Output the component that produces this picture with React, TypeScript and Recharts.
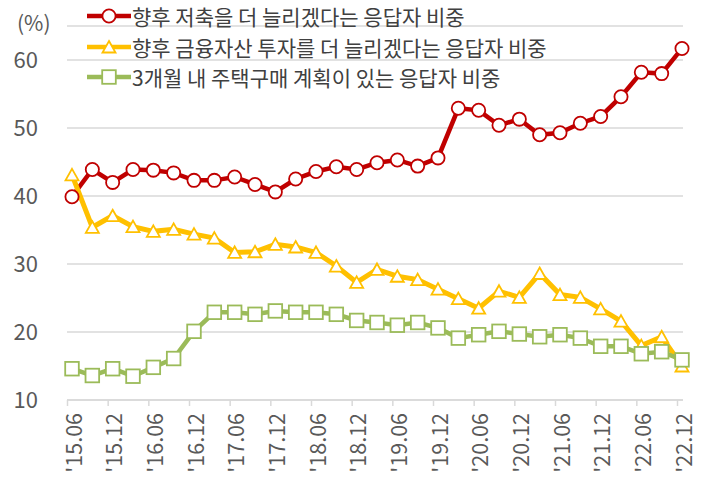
import { LineChart, Line, XAxis, YAxis, CartesianGrid, Legend } from 'recharts';

const periods = [
  "'15.06", "'15.09", "'15.12", "'16.03", "'16.06", "'16.09", "'16.12", "'17.03",
  "'17.06", "'17.09", "'17.12", "'18.03", "'18.06", "'18.09", "'18.12", "'19.03",
  "'19.06", "'19.09", "'19.12", "'20.03", "'20.06", "'20.09", "'20.12", "'21.03",
  "'21.06", "'21.09", "'21.12", "'22.03", "'22.06", "'22.09", "'22.12",
];

// 향후 저축을 더 늘리겠다는 응답자 비중
const savingsMore = [
  39.9, 43.9, 42.0, 43.9, 43.8, 43.4, 42.3, 42.3, 42.8, 41.7, 40.6, 42.5, 43.6, 44.3, 43.9, 44.9,
  45.3, 44.4, 45.6, 52.9, 52.6, 50.4, 51.3, 49.0, 49.3, 50.7, 51.7, 54.6, 58.2, 58.0, 61.7,
];

// 향후 금융자산 투자를 더 늘리겠다는 응답자 비중
const investMore = [
  43.1, 35.4, 37.1, 35.5, 34.8, 35.1, 34.4, 33.8, 31.7, 31.8, 32.9, 32.5, 31.7, 29.7, 27.3, 29.2,
  28.2, 27.7, 26.3, 24.9, 23.5, 26.0, 25.1, 28.6, 25.5, 25.1, 23.4, 21.6, 18.0, 19.3, 15.0,
];

// 3개월 내 주택구매 계획이 있는 응답자 비중
const housePlan = [
  14.6, 13.6, 14.6, 13.5, 14.8, 16.1, 20.1, 22.9, 22.9, 22.6, 23.1, 22.9, 22.9, 22.6, 21.7, 21.4,
  21.0, 21.4, 20.6, 19.1, 19.6, 20.1, 19.7, 19.3, 19.6, 19.1, 17.9, 17.9, 16.8, 17.1, 15.9,
];

const yTicks = [10, 20, 30, 40, 50, 60];
const seriesOrder = ['savings', 'invest', 'house'];

const RED = '#C00000';
const YELLOW = '#FFC000';
const GREEN = '#9BBB59';
const FONT = "'Noto Sans CJK KR', 'Noto Sans', sans-serif";

const chartData = periods.map((period, i) => ({
  period,
  savings: savingsMore[i],
  invest: investMore[i],
  house: housePlan[i],
}));

function marker(shape: string, color: string, cx: number, cy: number, key?: string) {
  if (shape === 'circle') {
    return <circle key={key} cx={cx} cy={cy} r={6.6} fill="#fff" stroke={color} strokeWidth={1.8} />;
  }
  if (shape === 'triangle') {
    const pts = `${cx},${cy - 6} ${cx + 6.5},${cy + 5.5} ${cx - 6.5},${cy + 5.5}`;
    return <polygon key={key} points={pts} fill="#fff" stroke={color} strokeWidth={1.8} strokeLinejoin="miter" />;
  }
  return <rect key={key} x={cx - 6.8} y={cy - 6.8} width={13.6} height={13.6} fill="#fff" stroke={color} strokeWidth={1.8} />;
}

const dotFor = (shape: string, color: string) => (props: any) =>
  marker(shape, color, props.cx, props.cy, `${shape}-${props.index}`);

const shapeOf: Record<string, string> = { savings: 'circle', invest: 'triangle', house: 'square' };

function SeriesLegend({ payload }: any) {
  const items = [...(payload || [])].sort(
    (a: any, b: any) => seriesOrder.indexOf(a.dataKey) - seriesOrder.indexOf(b.dataKey)
  );
  return (
    <div style={{ fontFamily: FONT }}>
      {items.map((entry: any) => (
        <div key={entry.dataKey} style={{ display: 'flex', alignItems: 'center', height: 30.5 }}>
          <svg width={44} height={20} style={{ display: 'block' }}>
            <line x1={0} x2={44} y1={10} y2={10} stroke={entry.color} strokeWidth={4.5} />
            {marker(shapeOf[entry.dataKey], entry.color, 22, 10)}
          </svg>
          <span style={{ marginLeft: 1, fontSize: 21, color: '#404040', whiteSpace: 'nowrap' }}>
            {entry.value}
          </span>
        </div>
      ))}
    </div>
  );
}

function PeriodTick({ x, y, payload }: any) {
  const ty = y + 13;
  return (
    <g>
      <line x1={x - 4.5} x2={x - 4.5} y1={y} y2={y + 6} stroke="#D9D9D9" strokeWidth={1.5} />
      <text
        x={x}
        y={ty}
        transform={`rotate(-90 ${x} ${ty})`}
        textAnchor="end"
        dominantBaseline="central"
        fontSize={21.5}
        fontFamily={FONT}
        fill="#595959"
      >
        {payload.value}
      </text>
    </g>
  );
}

export default function App() {
  return (
    <div style={{ position: 'relative', width: 705, height: 485, background: '#fff' }}>
      <style>{'body{margin:0}'}</style>
      <div
        style={{
          position: 'absolute',
          left: 17,
          top: 8,
          fontSize: 21,
          fontFamily: FONT,
          color: '#595959',
          lineHeight: '28px',
        }}
      >
        (%)
      </div>
      <LineChart width={705} height={485} data={chartData} margin={{ top: 26, right: 22, bottom: 5, left: 0 }}>
        <CartesianGrid vertical={false} stroke="#D9D9D9" strokeWidth={1.5} />
        <XAxis
          dataKey="period"
          interval={1}
          height={80}
          padding={{ left: 5, right: 1 }}
          tickLine={false}
          tickSize={0}
          tickMargin={0}
          axisLine={{ stroke: '#D9D9D9', strokeWidth: 1.5 }}
          tick={<PeriodTick />}
        />
        <YAxis
          width={67}
          domain={[10, 65]}
          ticks={yTicks}
          allowDataOverflow
          axisLine={false}
          tickLine={false}
          tickSize={0}
          tickMargin={29}
          tick={{ fontSize: 22, fill: '#595959', fontFamily: FONT }}
        />
        <Legend
          layout="vertical"
          align="center"
          verticalAlign="middle"
          wrapperStyle={{ top: 1, left: 87, width: 'auto' }}
          content={<SeriesLegend />}
        />
        <Line
          dataKey="savings"
          name="향후 저축을 더 늘리겠다는 응답자 비중"
          stroke={RED}
          strokeWidth={4.5}
          dot={dotFor('circle', RED)}
          isAnimationActive={false}
        />
        <Line
          dataKey="invest"
          name="향후 금융자산 투자를 더 늘리겠다는 응답자 비중"
          stroke={YELLOW}
          strokeWidth={5}
          dot={dotFor('triangle', YELLOW)}
          isAnimationActive={false}
        />
        <Line
          dataKey="house"
          name="3개월 내 주택구매 계획이 있는 응답자 비중"
          stroke={GREEN}
          strokeWidth={4.5}
          dot={dotFor('square', GREEN)}
          isAnimationActive={false}
        />
      </LineChart>
    </div>
  );
}
